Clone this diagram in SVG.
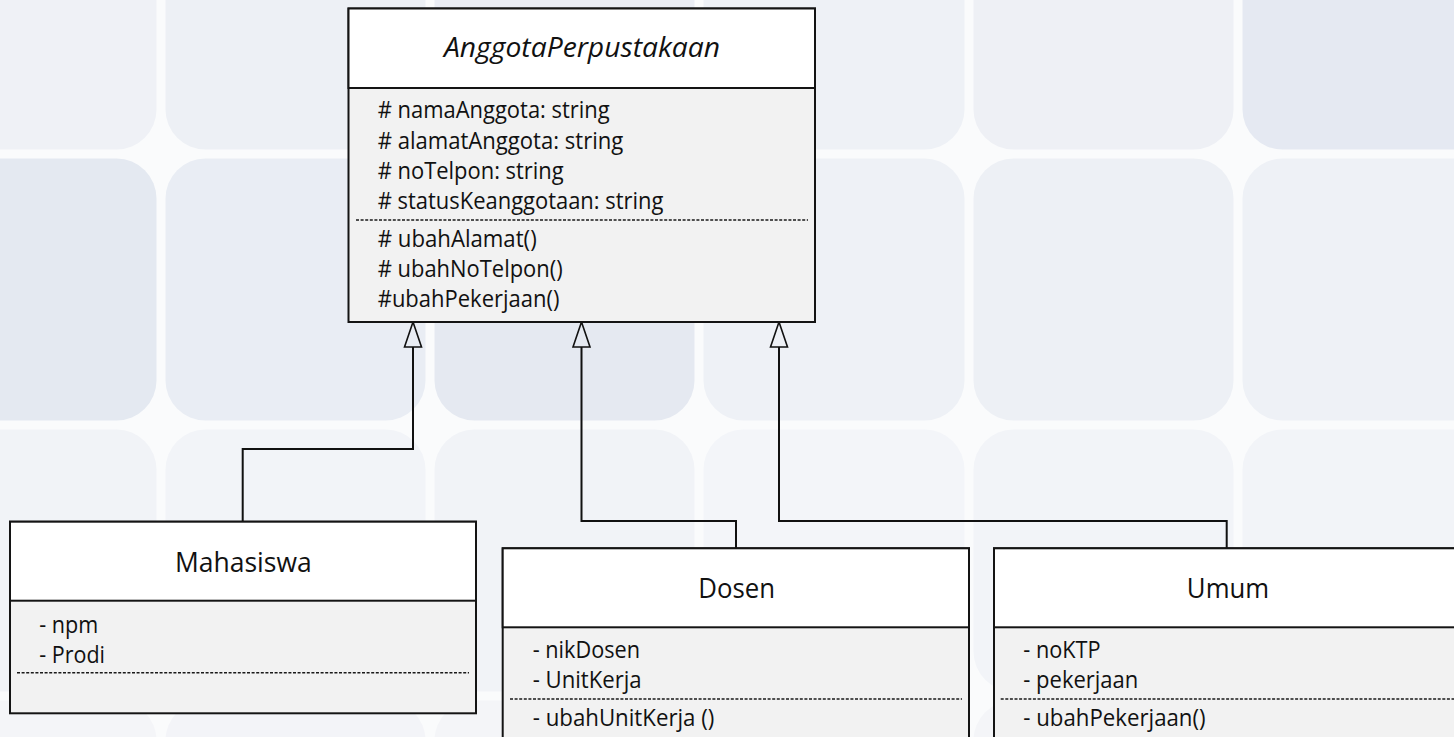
<svg xmlns="http://www.w3.org/2000/svg" width="1454" height="737" viewBox="0 0 1454 737">
  <style>
    .tile { stroke: none; }
    .hdr { fill: #ffffff; stroke: #141414; stroke-width: 2; }
    .body { fill: #f2f2f2; stroke: #141414; stroke-width: 2; }
    .div { stroke: #303030; stroke-width: 2; fill: none; }
    .dash { stroke: #1a1a1a; stroke-width: 1.4; stroke-dasharray: 3 1.6; fill: none; }
    .conn { stroke: #111111; stroke-width: 2; fill: none; }
    text { font-family: "Open Sans", "Liberation Sans", sans-serif; fill: #111111; }
    .title { font-size: 27px; text-anchor: middle; }
    .ital { font-style: italic; }
    .mem { font-size: 23px; }
  </style>
  <defs>
    <marker id="gen" markerUnits="userSpaceOnUse" viewBox="0 0 25 18" refX="0" refY="9" markerWidth="25" markerHeight="18" orient="auto" overflow="visible">
      <path d="M0,0.5 L25,9 L0,17.5 Z" fill="none" stroke="#111111" stroke-width="1.6" stroke-linejoin="miter"/>
    </marker>
  </defs>

  <!-- background -->
  <g id="background">
    <rect x="0" y="0" width="1454" height="737" fill="#fafbfc"/>
    <!-- row 0 -->
    <rect class="tile" x="-108" y="-115" width="264.5" height="264.5" rx="40" fill="#eff1f6"/>
    <rect class="tile" x="165.5" y="-115" width="260" height="264.5" rx="40" fill="#edf0f5"/>
    <rect class="tile" x="434.5" y="-115" width="260" height="264.5" rx="40" fill="#eaedf4"/>
    <rect class="tile" x="703.5" y="-115" width="261" height="264.5" rx="40" fill="#eef1f6"/>
    <rect class="tile" x="973.5" y="-115" width="260" height="264.5" rx="40" fill="#eef0f5"/>
    <rect class="tile" x="1242.5" y="-115" width="265" height="264.5" rx="40" fill="#e5e9f2"/>
    <!-- row 1 -->
    <rect class="tile" x="-108" y="158.5" width="264.5" height="262" rx="40" fill="#e4e9f1"/>
    <rect class="tile" x="165.5" y="158.5" width="260" height="262" rx="40" fill="#e9edf4"/>
    <rect class="tile" x="434.5" y="158.5" width="260" height="262" rx="40" fill="#e5e9f1"/>
    <rect class="tile" x="703.5" y="158.5" width="261" height="262" rx="40" fill="#eef1f6"/>
    <rect class="tile" x="973.5" y="158.5" width="260" height="262" rx="40" fill="#edf0f5"/>
    <rect class="tile" x="1242.5" y="158.5" width="265" height="262" rx="40" fill="#eef1f6"/>
    <!-- row 2 -->
    <rect class="tile" x="-108" y="429.5" width="264.5" height="262" rx="40" fill="#f1f3f7"/>
    <rect class="tile" x="165.5" y="429.5" width="260" height="262" rx="40" fill="#f2f4f8"/>
    <rect class="tile" x="434.5" y="429.5" width="260" height="262" rx="40" fill="#f1f3f7"/>
    <rect class="tile" x="703.5" y="429.5" width="261" height="262" rx="40" fill="#f3f5f9"/>
    <rect class="tile" x="973.5" y="429.5" width="260" height="262" rx="40" fill="#f2f4f8"/>
    <rect class="tile" x="1242.5" y="429.5" width="265" height="262" rx="40" fill="#f2f4f8"/>
    <!-- row 3 -->
    <rect class="tile" x="-108" y="700.5" width="264.5" height="262" rx="40" fill="#f4f5f8"/>
    <rect class="tile" x="165.5" y="700.5" width="260" height="262" rx="40" fill="#f3f4f8"/>
    <rect class="tile" x="434.5" y="700.5" width="260" height="262" rx="40" fill="#f4f5f8"/>
    <rect class="tile" x="703.5" y="700.5" width="261" height="262" rx="40" fill="#f5f6f9"/>
    <rect class="tile" x="973.5" y="700.5" width="260" height="262" rx="40" fill="#f4f5f8"/>
    <rect class="tile" x="1242.5" y="700.5" width="265" height="262" rx="40" fill="#f4f5f8"/>
  </g>

  <!-- connectors -->
  <g id="connectors">
    <path class="conn" d="M242.7,521.7 V449 H413 V347" marker-end="url(#gen)"/>
    <path class="conn" d="M736,548.3 V521 H581.5 V347" marker-end="url(#gen)"/>
    <path class="conn" d="M1226.7,548.3 V521 H779 V347" marker-end="url(#gen)"/>
  </g>

  <!-- AnggotaPerpustakaan -->
  <g id="AnggotaPerpustakaan">
    <rect class="body" x="348.5" y="8.5" width="466.5" height="313.5"/>
    <rect class="hdr" x="348.5" y="8.5" width="466.5" height="79.5"/>
    <text class="title ital" x="582" y="57" textLength="276" lengthAdjust="spacingAndGlyphs">AnggotaPerpustakaan</text>
    <text class="mem" x="377.7" y="118.3" textLength="232" lengthAdjust="spacingAndGlyphs"># namaAnggota: string</text>
    <text class="mem" x="377.7" y="148.5" textLength="245.6" lengthAdjust="spacingAndGlyphs"># alamatAnggota: string</text>
    <text class="mem" x="377.7" y="179.3" textLength="186" lengthAdjust="spacingAndGlyphs"># noTelpon: string</text>
    <text class="mem" x="377.7" y="209.3" textLength="285.7" lengthAdjust="spacingAndGlyphs"># statusKeanggotaan: string</text>
    <line class="dash" x1="356" y1="220" x2="808" y2="220"/>
    <text class="mem" x="377.7" y="246.7" textLength="159" lengthAdjust="spacingAndGlyphs"># ubahAlamat()</text>
    <text class="mem" x="377.7" y="276.7" textLength="185" lengthAdjust="spacingAndGlyphs"># ubahNoTelpon()</text>
    <text class="mem" x="377.7" y="306.7" textLength="181.7" lengthAdjust="spacingAndGlyphs">#ubahPekerjaan()</text>
  </g>

  <!-- Mahasiswa -->
  <g id="Mahasiswa">
    <rect class="body" x="10" y="521.7" width="466" height="191.6"/>
    <rect class="hdr" x="10" y="521.7" width="466" height="79"/>
    <text class="title" x="243.3" y="571.7" textLength="136.7" lengthAdjust="spacingAndGlyphs">Mahasiswa</text>
    <text class="mem" x="39.3" y="633.3" textLength="59" lengthAdjust="spacingAndGlyphs">- npm</text>
    <text class="mem" x="39.3" y="662.7" textLength="65.7" lengthAdjust="spacingAndGlyphs">- Prodi</text>
    <line class="dash" x1="17" y1="672.7" x2="469" y2="672.7"/>
  </g>

  <!-- Dosen -->
  <g id="Dosen">
    <rect class="body" x="502.7" y="548.3" width="466.3" height="200"/>
    <rect class="hdr" x="502.7" y="548.3" width="466.3" height="79"/>
    <text class="title" x="736.7" y="598.3" textLength="76.7" lengthAdjust="spacingAndGlyphs">Dosen</text>
    <text class="mem" x="532.7" y="658.3" textLength="107.3" lengthAdjust="spacingAndGlyphs">- nikDosen</text>
    <text class="mem" x="532.7" y="688.3" textLength="109" lengthAdjust="spacingAndGlyphs">- UnitKerja</text>
    <line class="dash" x1="510" y1="699" x2="962" y2="699"/>
    <text class="mem" x="532.7" y="726.3" textLength="181.7" lengthAdjust="spacingAndGlyphs">- ubahUnitKerja ()</text>
  </g>

  <!-- Umum -->
  <g id="Umum">
    <rect class="body" x="994" y="548.3" width="466" height="200"/>
    <rect class="hdr" x="994" y="548.3" width="466" height="79"/>
    <text class="title" x="1228" y="598.3" textLength="82.3" lengthAdjust="spacingAndGlyphs">Umum</text>
    <text class="mem" x="1023.3" y="658.3" textLength="77.3" lengthAdjust="spacingAndGlyphs">- noKTP</text>
    <text class="mem" x="1023.3" y="688.3" textLength="115" lengthAdjust="spacingAndGlyphs">- pekerjaan</text>
    <line class="dash" x1="1000.7" y1="699" x2="1454" y2="699"/>
    <text class="mem" x="1023.3" y="726.3" textLength="182.3" lengthAdjust="spacingAndGlyphs">- ubahPekerjaan()</text>
  </g>
</svg>
